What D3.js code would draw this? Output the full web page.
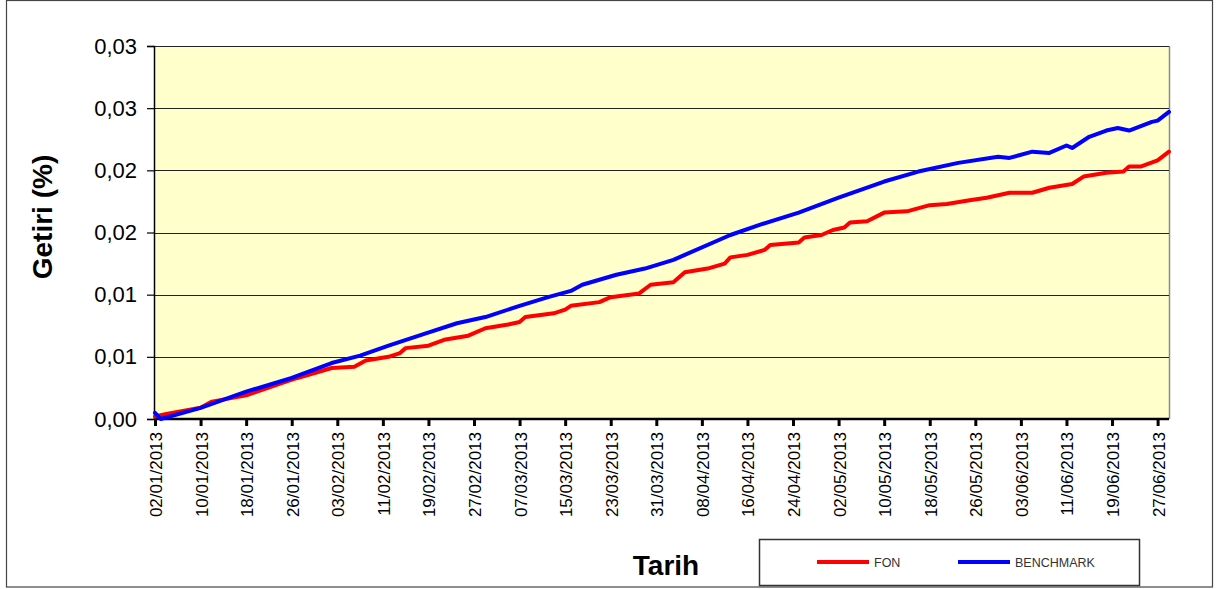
<!DOCTYPE html>
<html>
<head>
<meta charset="utf-8">
<script src="https://cdn.jsdelivr.net/npm/d3@7"></script>
<style>
  html, body { margin: 0; padding: 0; background: #fff; }
  svg { display: block; font-family: "Liberation Sans", Arial, sans-serif; }
</style>
</head>
<body>
<svg id="chart" width="1217" height="589"></svg>
<script>
// ---------- DATA ----------
const seriesNames = ["FON", "BENCHMARK"];

const fonDates = ["2013-01-02","2013-01-04","2013-01-10","2013-01-12","2013-01-18","2013-01-25","2013-01-27",
  "2013-02-02","2013-02-06","2013-02-08","2013-02-12","2013-02-14","2013-02-15","2013-02-19","2013-02-22","2013-02-26",
  "2013-03-01","2013-03-05","2013-03-07","2013-03-08","2013-03-13","2013-03-15","2013-03-16","2013-03-21","2013-03-23","2013-03-28","2013-03-30",
  "2013-04-03","2013-04-05","2013-04-09","2013-04-12","2013-04-13","2013-04-16","2013-04-19","2013-04-20","2013-04-25","2013-04-26","2013-04-29",
  "2013-05-01","2013-05-03","2013-05-04","2013-05-07","2013-05-10","2013-05-14","2013-05-18","2013-05-21","2013-05-25","2013-05-28",
  "2013-06-01","2013-06-05","2013-06-08","2013-06-12","2013-06-14","2013-06-18","2013-06-21","2013-06-22","2013-06-24","2013-06-27","2013-06-29"];
const fonValues = [0.0002,0.0004,0.0009,0.0014,0.0019,0.0030,0.0033,
  0.0041,0.0042,0.0047,0.0050,0.0053,0.0057,0.0059,0.0064,0.0067,
  0.0073,0.0076,0.0078,0.0082,0.0085,0.0088,0.0091,0.0094,0.0098,0.0101,0.0108,
  0.0110,0.0118,0.0121,0.0125,0.0130,0.0132,0.0136,0.0140,0.0142,0.0146,0.0148,
  0.0152,0.0154,0.0158,0.0159,0.0166,0.0167,0.0172,0.0173,0.0176,0.0178,
  0.0182,0.0182,0.0186,0.0189,0.0195,0.0198,0.0199,0.0203,0.0203,0.0208,0.0215];

const benchDates = ["2013-01-02","2013-01-03","2013-01-10","2013-01-18","2013-01-26",
  "2013-02-02","2013-02-07","2013-02-12","2013-02-18","2013-02-24",
  "2013-03-01","2013-03-07","2013-03-12","2013-03-16","2013-03-18","2013-03-24","2013-03-29",
  "2013-04-03","2013-04-05","2013-04-13","2013-04-18","2013-04-25",
  "2013-05-02","2013-05-10","2013-05-16","2013-05-23","2013-05-30",
  "2013-06-01","2013-06-05","2013-06-08","2013-06-11","2013-06-12","2013-06-15","2013-06-18","2013-06-20","2013-06-22","2013-06-26","2013-06-27","2013-06-29"];
const benchValues = [0.0005,0.0000,0.0009,0.0022,0.0033,
  0.0045,0.0051,0.0059,0.0068,0.0077,
  0.0082,0.0091,0.0098,0.0103,0.0108,0.0116,0.0121,
  0.0128,0.0132,0.0148,0.0156,0.0166,
  0.0178,0.0191,0.0199,0.0206,0.0211,
  0.0210,0.0215,0.0214,0.0220,0.0218,0.0227,0.0232,0.0234,0.0232,0.0239,0.0240,0.0247];

const xTickLabels = ["02/01/2013","10/01/2013","18/01/2013","26/01/2013","03/02/2013","11/02/2013","19/02/2013",
  "27/02/2013","07/03/2013","15/03/2013","23/03/2013","31/03/2013","08/04/2013","16/04/2013","24/04/2013",
  "02/05/2013","10/05/2013","18/05/2013","26/05/2013","03/06/2013","11/06/2013","19/06/2013","27/06/2013"];
const yTickValues = [0, 0.005, 0.01, 0.015, 0.02, 0.025, 0.03];
const yTickLabels = ["0,00","0,01","0,01","0,02","0,02","0,03","0,03"];
const xDomain = ["2013-01-02", "2013-06-29"];

// ---------- CHART ----------
const svg = d3.select("#chart");
const parseISO = d3.timeParse("%Y-%m-%d");
const parseTick = d3.timeParse("%d/%m/%Y");

const plot = { left: 154, right: 1169, top: 46, bottom: 419 };

const x = d3.scaleTime().domain(xDomain.map(parseISO)).range([155, plot.right]);
const y = d3.scaleLinear().domain([0, 0.03]).range([plot.bottom, plot.top]);

// outer frame
svg.append("rect").attr("x", 6.5).attr("y", 0.5).attr("width", 1206).attr("height", 586.5)
  .attr("fill", "#fff").attr("stroke", "#444").attr("stroke-width", 1.2);

// plot background
svg.append("rect").attr("x", plot.left).attr("y", plot.top)
  .attr("width", plot.right - plot.left).attr("height", plot.bottom - plot.top)
  .attr("fill", "#FFFFCC");

// right border of plot
svg.append("line").attr("x1", plot.right + 0.5).attr("x2", plot.right + 0.5)
  .attr("y1", plot.top).attr("y2", plot.bottom).attr("stroke", "#8a8a8a").attr("stroke-width", 1.5);

// gridlines
svg.append("g").selectAll("line").data(yTickValues.slice(1)).join("line")
  .attr("x1", plot.left).attr("x2", plot.right)
  .attr("y1", d => Math.round(y(d)) + 0.5).attr("y2", d => Math.round(y(d)) + 0.5)
  .attr("stroke", "#222").attr("stroke-width", 1);

// y axis
const yAxis = d3.axisLeft(y).tickValues(yTickValues)
  .tickFormat((d, i) => yTickLabels[i]).tickSize(7).tickPadding(10);
const gy = svg.append("g").attr("transform", `translate(${plot.left},0)`).call(yAxis);
gy.select(".domain").attr("stroke", "#000").attr("stroke-width", 1.5);
gy.selectAll(".tick line").attr("stroke", "#000").attr("stroke-width", 1.2);
gy.selectAll(".tick text").attr("font-size", 22).attr("fill", "#000")
  .attr("font-family", "Liberation Sans, Arial, sans-serif");

// x axis
const xTicks = xTickLabels.map(parseTick);
const xAxis = d3.axisBottom(x).tickValues(xTicks).tickFormat("").tickSize(7).tickSizeOuter(0);
const gx = svg.append("g").attr("transform", `translate(0,${plot.bottom})`).call(xAxis);
gx.select(".domain").attr("stroke", "#000").attr("stroke-width", 2.5)
  .attr("d", `M${plot.left},0H${plot.right}`);
gx.selectAll(".tick line").attr("stroke", "#000").attr("stroke-width", 3);

// x tick labels (rotated)
svg.append("g").selectAll("text").data(xTicks).join("text")
  .attr("transform", d => `translate(${x(d) + 7},${432}) rotate(-90)`)
  .attr("text-anchor", "end")
  .attr("font-size", 17)
  .attr("fill", "#000")
  .text((d, i) => xTickLabels[i]);

// lines
const line = d3.line().x(d => x(d.date)).y(d => y(d.value));
const fonData = fonDates.map((d, i) => ({ date: parseISO(d), value: fonValues[i] }));
const benchData = benchDates.map((d, i) => ({ date: parseISO(d), value: benchValues[i] }));

const colors = ["#FF0000", "#0000FF"];
[fonData, benchData].forEach((data, i) => {
  svg.append("path").datum(data)
    .attr("d", line)
    .attr("fill", "none")
    .attr("stroke", colors[i])
    .attr("stroke-width", 4)
    .attr("stroke-linejoin", "round")
    .attr("stroke-linecap", "round");
});

// axis titles
svg.append("text")
  .attr("transform", "translate(52,217) rotate(-90)")
  .attr("text-anchor", "middle")
  .attr("font-size", 28).attr("font-weight", "bold").attr("fill", "#000")
  .text("Getiri (%)");

svg.append("text")
  .attr("x", 666).attr("y", 575)
  .attr("text-anchor", "middle")
  .attr("font-size", 28).attr("font-weight", "bold").attr("fill", "#000")
  .text("Tarih");

// legend
const legend = svg.append("g");
legend.append("rect").attr("x", 759.5).attr("y", 539.5).attr("width", 380).attr("height", 46)
  .attr("fill", "#fff").attr("stroke", "#333").attr("stroke-width", 1.5);
const legendPos = [{ x1: 817, x2: 869, tx: 874 }, { x1: 958, x2: 1010, tx: 1015 }];
seriesNames.forEach((name, i) => {
  legend.append("line").attr("x1", legendPos[i].x1).attr("x2", legendPos[i].x2)
    .attr("y1", 562).attr("y2", 562)
    .attr("stroke", colors[i]).attr("stroke-width", 4);
  legend.append("text").attr("x", legendPos[i].tx).attr("y", 566.5)
    .attr("font-size", 12.5).attr("fill", "#333").text(name);
});
</script>
</body>
</html>
